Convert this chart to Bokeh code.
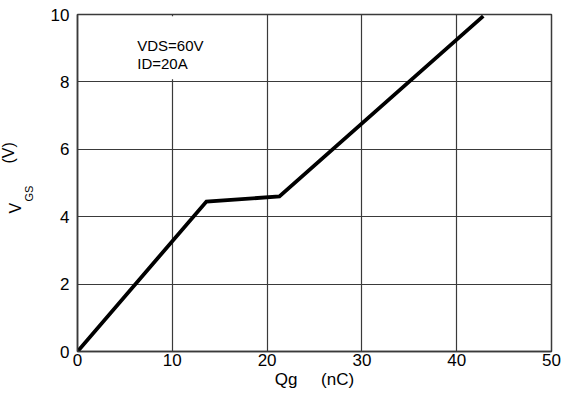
import math
from bokeh.plotting import figure
from bokeh.models import Label, BoxAnnotation, FixedTicker, Range1d, Title
from bokeh.embed import file_html
from bokeh.resources import INLINE

# Data
qg = [0, 13.6, 21.3, 42.8]          # nC
vgs = [0, 4.45, 4.6, 9.95]          # V
x_ticks = [0, 10, 20, 30, 40, 50]
y_ticks = [0, 2, 4, 6, 8, 10]
note_lines = ["VDS=60V", "ID=20A"]

FONT = "Liberation Sans"
GRID = "#3a3a3a"

p = figure(width=565, height=394, output_backend="svg", toolbar_location=None,
           x_range=Range1d(0, 50), y_range=Range1d(0, 10),
           min_border_left=77, min_border_right=14, min_border_top=14, min_border_bottom=43)
p.background_fill_color = "white"
p.border_fill_color = "white"
p.outline_line_color = GRID
p.outline_line_width = 1.5

for ax in (p.xaxis[0], p.yaxis[0]):
    ax.major_label_text_font = FONT
    ax.major_label_text_font_size = "17px"
    ax.major_label_text_color = "#000000"
    ax.major_tick_out = 0
    ax.major_tick_in = 0
    ax.minor_tick_out = 0
    ax.minor_tick_in = 0
    ax.axis_line_color = GRID
    ax.axis_line_width = 1.5

p.xaxis.ticker = FixedTicker(ticks=x_ticks)
p.yaxis.ticker = FixedTicker(ticks=y_ticks)
p.xaxis.major_label_standoff = 2
p.yaxis.major_label_standoff = 8

p.xaxis.axis_label = "Qg\u00a0\u00a0\u00a0\u00a0\u00a0(nC)"
p.xaxis.axis_label_text_font = FONT
p.xaxis.axis_label_text_font_size = "17px"
p.xaxis.axis_label_text_font_style = "normal"
p.xaxis.axis_label_text_color = "#000000"
p.xaxis.axis_label_standoff = 1

p.xgrid.grid_line_color = GRID
p.ygrid.grid_line_color = GRID
p.xgrid.grid_line_width = 1.2
p.ygrid.grid_line_width = 1.2

# blank area behind the note (grid does not run there)
p.add_layout(BoxAnnotation(left=0.15, right=10.25, bottom=8.08, top=9.95,
                           fill_color="white", fill_alpha=1.0, line_color=None,
                           level="underlay"))

p.line(qg, vgs, line_color="black", line_width=3.8, line_join="miter")

# note text
for i, t in enumerate(note_lines):
    p.add_layout(Label(x=6.3, y=9.08 - 0.53 * i, text=t, text_font=FONT,
                       text_font_size="15px", text_baseline="alphabetic",
                       text_align="left", text_color="#000000"))

# y axis label with subscript, built from titles in the left panel
p.add_layout(Title(text="GS", align="left", offset=150, standoff=26,
                   text_font=FONT, text_font_size="11px", text_font_style="normal",
                   text_color="#000000"), "left")
p.add_layout(Title(text="V", align="left", offset=138, standoff=-32,
                   text_font=FONT, text_font_size="16px", text_font_style="normal",
                   text_color="#000000"), "left")
p.add_layout(Title(text="(V)", align="left", offset=188, standoff=-18,
                   text_font=FONT, text_font_size="16px", text_font_style="normal",
                   text_color="#000000"), "left")

open("out.html", "w").write(file_html(p, INLINE))
